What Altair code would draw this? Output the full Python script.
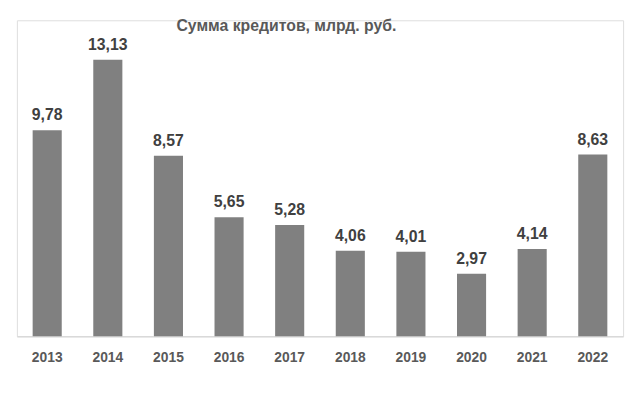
import altair as alt
import pandas as pd

years = ["2013", "2014", "2015", "2016", "2017", "2018", "2019", "2020", "2021", "2022"]
values = [9.78, 13.13, 8.57, 5.65, 5.28, 4.06, 4.01, 2.97, 4.14, 8.63]
title_text = "Сумма кредитов, млрд. руб."

df = pd.DataFrame({
    "year": years,
    "value": values,
    "label": [f"{v:.2f}".replace(".", ",") for v in values],
})

FONT = "Liberation Sans Narrow, Liberation Sans, sans-serif"

base = alt.Chart(df).encode(
    x=alt.X("year:N", sort=years, title=None,
            scale=alt.Scale(paddingInner=0.52, paddingOuter=0.26),
            axis=alt.Axis(labelAngle=0, labelFont=FONT, labelFontSize=14,
                          labelFontWeight="bold", labelColor="#595959",
                          labelPadding=15, ticks=False, domainColor="#d9d9d9",
                          domainWidth=1.5, grid=False)),
    y=alt.Y("value:Q", title=None, scale=alt.Scale(domain=[0, 15]), axis=None),
)

bars = base.mark_bar(color="#808080")
labels = base.mark_text(baseline="bottom", dy=-7, font=FONT, fontSize=16,
                        fontWeight="bold", color="#404040").encode(text="label:N")

title = alt.Chart(pd.DataFrame({"t": [title_text]})).mark_text(
    font=FONT, fontSize=16, fontWeight="bold", color="#595959", baseline="middle"
).encode(x=alt.value(273), y=alt.value(6), text="t:N")

chart = alt.layer(bars, labels, title).properties(
    width=614, height=320,
    autosize=alt.AutoSizeParams(type="none"),
    padding={"left": 9, "top": 10, "right": 8, "bottom": 50},
).configure_view(stroke=None).configure(background="white")

chart.save("out.html", embed_options={"renderer": "svg", "actions": False})
